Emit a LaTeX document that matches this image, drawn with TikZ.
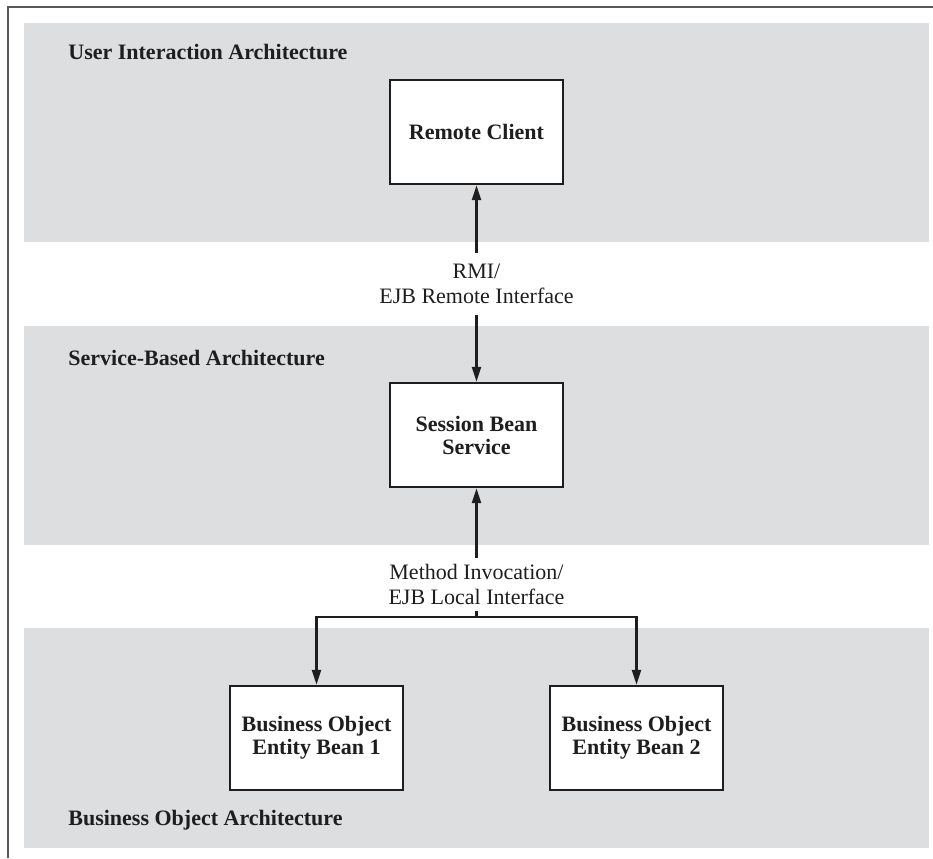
\documentclass[tikz,border=0pt]{standalone}
\usepackage{fontspec}
\setmainfont{Liberation Serif}
\usetikzlibrary{arrows.meta}
\definecolor{bandgray}{RGB}{220,222,223}
\definecolor{framegray}{RGB}{90,90,90}
\definecolor{ink}{RGB}{30,30,30}
\tikzset{
  band/.style={fill=bandgray, draw=none},
  boxnode/.style={draw=ink, fill=white, line width=1.2pt, minimum width=86.5pt, minimum height=52pt,
    align=center, font=\bfseries\fontsize{11}{11.5}\selectfont, text=ink, inner sep=0pt},
  regionlabel/.style={anchor=base west, font=\bfseries\fontsize{11}{12}\selectfont, text=ink, inner sep=0pt},
  conlabel/.style={fill=white, align=center, font=\fontsize{11}{12.5}\selectfont, text=ink, inner sep=0pt},
  conn/.style={draw=ink, line width=1.1pt, arrows={-Triangle[length=7.5pt,width=4.5pt]}},
  biconn/.style={draw=ink, line width=1.1pt, arrows={Triangle[length=7.5pt,width=4.5pt]-Triangle[length=7.5pt,width=4.5pt]}}
}
\begin{document}
\begin{tikzpicture}[x=0.5pt,y=-0.5pt]
\useasboundingbox (0,0) rectangle (933,858);
% frame
\draw[framegray, line width=1.3pt] (8,858) -- (8,7) -- (933,7);
% bands
\fill[band] (24,23) rectangle (929,242);
\fill[band] (24,326) rectangle (929,545);
\fill[band] (24,628) rectangle (929,848);
% region labels
\node[regionlabel] (ui) at (68,59) {User Interaction Architecture};
\node[regionlabel] (sba) at (68,365) {Service-Based Architecture};
\node[regionlabel] (boa) at (68,825) {Business Object Architecture};
% boxes
\node[boxnode] (rc) at (476.5,132) {Remote Client};
\node[boxnode] (sb) at (476.5,435) {Session Bean\\Service};
\node[boxnode] (eb1) at (316.5,738) {Business Object\\Entity Bean 1};
\node[boxnode] (eb2) at (636.5,738) {Business Object\\Entity Bean 2};
% connectors
\draw[biconn] (rc.south) -- (sb.north);
\node[conlabel, minimum height=31pt] (rmi) at (476.5,284) {RMI/\\EJB Remote Interface};
\coordinate (j) at (476.5,617);
\draw[conn] (j) -- (sb.south);
\draw[conn] (j) -| (eb1.north);
\draw[conn] (j) -| (eb2.north);
\node[conlabel, minimum height=26.5pt] (mi) at (476.5,584) {Method Invocation/\\EJB Local Interface};
\end{tikzpicture}
\end{document}
